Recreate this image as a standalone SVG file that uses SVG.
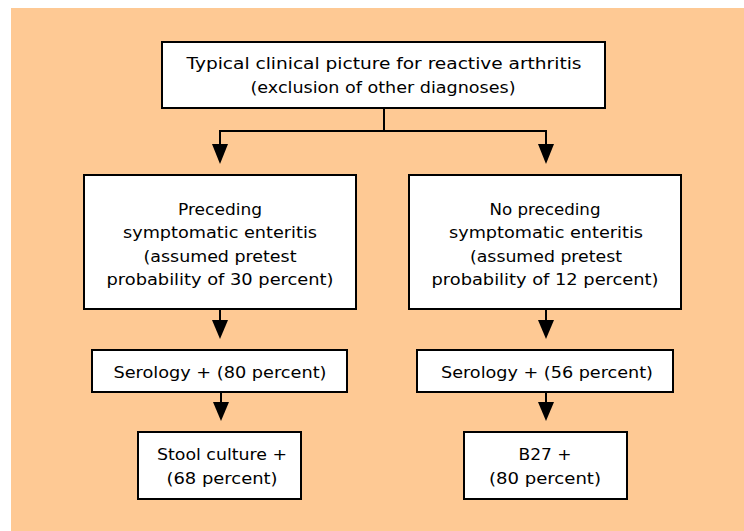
<svg xmlns="http://www.w3.org/2000/svg" width="744" height="531" viewBox="0 0 744 531">
<defs>
<style>
.box{fill:#ffffff;stroke:#000000;stroke-width:2}
.t{font-family:"DejaVu Sans","Liberation Sans",sans-serif;font-size:16px;fill:#000000;text-anchor:middle}
.ln{fill:none;stroke:#000000;stroke-width:2}
.ah{fill:#000000}
</style>
</defs>
<rect x="0" y="0" width="744" height="531" fill="#ffffff"/>
<rect x="11" y="8" width="733" height="523" fill="#fec994"/>
<g id="connectors">
<polyline class="ln" points="384,108 384,131"/>
<polyline class="ln" points="220,146 220,131 546,131 546,146"/>
<polygon class="ah" points="212,144 228,144 220,164"/>
<polygon class="ah" points="538,144 554,144 546,164"/>
<line class="ln" x1="220" y1="309" x2="220" y2="322"/>
<polygon class="ah" points="212,320 228,320 220,339"/>
<line class="ln" x1="546" y1="309" x2="546" y2="322"/>
<polygon class="ah" points="538,320 554,320 546,339"/>
<line class="ln" x1="221" y1="392" x2="221" y2="404"/>
<polygon class="ah" points="213,402 229,402 221,421"/>
<line class="ln" x1="546" y1="392" x2="546" y2="404"/>
<polygon class="ah" points="538,402 554,402 546,421"/>
</g>
<g id="top">
<rect class="box" x="162" y="42" width="443" height="66"/>
<text class="t" x="384" y="69" textLength="395" lengthAdjust="spacingAndGlyphs">Typical clinical picture for reactive arthritis</text>
<text class="t" x="383" y="93" textLength="265" lengthAdjust="spacingAndGlyphs">(exclusion of other diagnoses)</text>
</g>
<g id="left">
<rect class="box" x="84" y="175" width="272" height="134"/>
<text class="t" x="220" y="215" textLength="84" lengthAdjust="spacingAndGlyphs">Preceding</text>
<text class="t" x="220" y="238" textLength="194" lengthAdjust="spacingAndGlyphs">symptomatic enteritis</text>
<text class="t" x="220" y="262" textLength="153" lengthAdjust="spacingAndGlyphs">(assumed pretest</text>
<text class="t" x="220" y="285" textLength="227" lengthAdjust="spacingAndGlyphs">probability of 30 percent)</text>
</g>
<g id="right">
<rect class="box" x="409" y="175" width="272" height="134"/>
<text class="t" x="545" y="215" textLength="111" lengthAdjust="spacingAndGlyphs">No preceding</text>
<text class="t" x="546" y="238" textLength="194" lengthAdjust="spacingAndGlyphs">symptomatic enteritis</text>
<text class="t" x="546" y="262" textLength="152" lengthAdjust="spacingAndGlyphs">(assumed pretest</text>
<text class="t" x="545" y="285" textLength="227" lengthAdjust="spacingAndGlyphs">probability of 12 percent)</text>
</g>
<g id="serology-left">
<rect class="box" x="92" y="350" width="255" height="42"/>
<text class="t" x="220" y="378" textLength="213" lengthAdjust="spacingAndGlyphs">Serology + (80 percent)</text>
</g>
<g id="serology-right">
<rect class="box" x="417" y="350" width="256" height="42"/>
<text class="t" x="547" y="378" textLength="212" lengthAdjust="spacingAndGlyphs">Serology + (56 percent)</text>
</g>
<g id="stool">
<rect class="box" x="138" y="432" width="163" height="67"/>
<text class="t" x="222" y="460" textLength="130" lengthAdjust="spacingAndGlyphs">Stool culture +</text>
<text class="t" x="222" y="484" textLength="111" lengthAdjust="spacingAndGlyphs">(68 percent)</text>
</g>
<g id="b27">
<rect class="box" x="464" y="432" width="163" height="67"/>
<text class="t" x="545" y="460" textLength="53" lengthAdjust="spacingAndGlyphs">B27 +</text>
<text class="t" x="545" y="484" textLength="112" lengthAdjust="spacingAndGlyphs">(80 percent)</text>
</g>
</svg>
